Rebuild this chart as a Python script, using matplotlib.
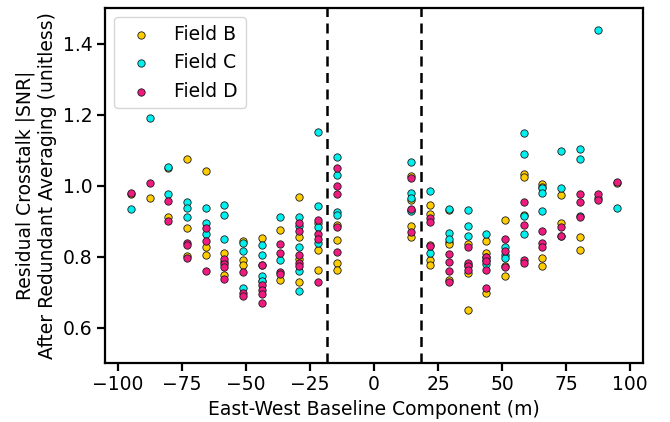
import numpy as np
from matplotlib import pyplot as plt

# East-west column index (multiples of half the 14.6 m hex spacing)
ew_step = 7.3
ew_index = [-13, -12, -11, -10, -9, -8, -7, -6, -5, -4, -3, -2,
            2, 3, 4, 5, 6, 7, 8, 9, 10, 11, 12, 13]

# residual crosstalk |SNR| per column, one list per field
field_b = [
    [0.975], [0.964], [1.048, 0.911], [1.074, 0.880, 0.802],
    [1.040, 0.828, 0.803], [0.811, 0.785, 0.748], [0.845, 0.790, 0.775],
    [0.851, 0.775, 0.730], [0.874, 0.734], [0.969, 0.855, 0.793, 0.727],
    [0.895, 0.819, 0.763], [0.890, 0.846, 0.783, 0.761],
    [1.027, 0.960, 0.930, 0.887, 0.854], [0.944, 0.921, 0.833, 0.789, 0.776],
    [0.932, 0.841, 0.835, 0.733], [0.835, 0.775, 0.753, 0.649],
    [0.845, 0.810, 0.800, 0.697], [0.904, 0.774, 0.746],
    [1.031, 1.024, 0.918], [1.003, 0.995, 0.796, 0.772],
    [0.974, 0.894], [0.855, 0.819], [0.965], [1.008],
]
field_c = [
    [0.935], [1.189], [1.051, 0.977], [0.953, 0.938, 0.910],
    [0.936, 0.895, 0.864], [0.945, 0.917, 0.849], [0.838, 0.815, 0.710],
    [0.833, 0.805, 0.745, 0.731], [0.912, 0.789],
    [0.912, 0.885, 0.828, 0.760, 0.703], [1.150, 0.943, 0.883, 0.838],
    [1.081, 1.029, 0.925, 0.918],
    [1.067, 0.979, 0.965, 0.927], [0.985, 0.810], [0.935, 0.866, 0.850],
    [0.932, 0.887, 0.857], [0.863, 0.790, 0.778], [0.828, 0.805, 0.796],
    [1.149, 1.088, 0.913, 0.863], [0.992, 0.980, 0.929], [1.096, 0.992],
    [1.103, 1.074, 0.915], [1.439], [0.937],
]
field_d = [
    [0.978], [1.006], [0.956, 0.900], [0.838, 0.833, 0.797],
    [0.881, 0.844, 0.758], [0.793, 0.780, 0.770, 0.738], [0.755, 0.697, 0.690],
    [0.775, 0.720, 0.706, 0.695, 0.668], [0.836, 0.810, 0.755, 0.750],
    [0.894, 0.871, 0.805, 0.781, 0.772], [0.904, 0.864, 0.849, 0.727],
    [1.050, 1.000, 0.977, 0.883, 0.813],
    [1.022, 0.934, 0.870], [0.909, 0.896, 0.830], [0.807, 0.784, 0.760, 0.729],
    [0.826, 0.781, 0.772, 0.761], [0.798, 0.788, 0.763, 0.712],
    [0.849, 0.816, 0.770], [0.953, 0.890, 0.789, 0.783], [0.873, 0.838, 0.828],
    [0.883, 0.859, 0.857], [0.977, 0.954, 0.912], [0.975, 0.960], [1.011],
]

field_names = ['Field B', 'Field C', 'Field D']
field_colors = ['#FFCC00', '#00F0F0', '#EE1A80']
cut_baseline = 18.3  # dashed lines


def flatten(field):
    xs, ys = [], []
    for k, vals in zip(ew_index, field):
        xs += [k * ew_step] * len(vals)
        ys += vals
    return np.array(xs), np.array(ys)


def main():
    plt.rcParams['font.size'] = 13.5
    fig = plt.figure(figsize=(6.7, 4.22), dpi=100)
    ax = fig.add_axes([105 / 670, 59 / 422, 538 / 670, 355 / 422])

    for field, name, color in zip([field_b, field_c, field_d],
                                  field_names, field_colors):
        x, y = flatten(field)
        ax.scatter(x, y, s=28, c=color, edgecolors='#1a1a1a',
                   linewidths=0.6, label=name, zorder=3)

    ax.axvline(-cut_baseline, color='k', ls=(0, (4, 2.6)), lw=1.8, zorder=2)
    ax.axvline(cut_baseline, color='k', ls=(0, (4, 2.6)), lw=1.8, zorder=2)

    ax.set_xlim(-105, 105)
    ax.set_ylim(0.5, 1.5)
    ax.set_xticks(np.arange(-100, 101, 25))
    ax.set_yticks([0.6, 0.8, 1.0, 1.2, 1.4])
    for sp in ax.spines.values():
        sp.set_linewidth(1.6)
    ax.tick_params(width=1.6, length=5.5)

    ax.set_xlabel("East-West Baseline Component (m)")
    ax.set_ylabel("Residual Crosstalk |SNR|\nAfter Redundant Averaging (unitless)")
    ax.legend(loc='upper left', fontsize=13.5)

    fig.savefig('out.png')


if __name__ == "__main__":
    main()
